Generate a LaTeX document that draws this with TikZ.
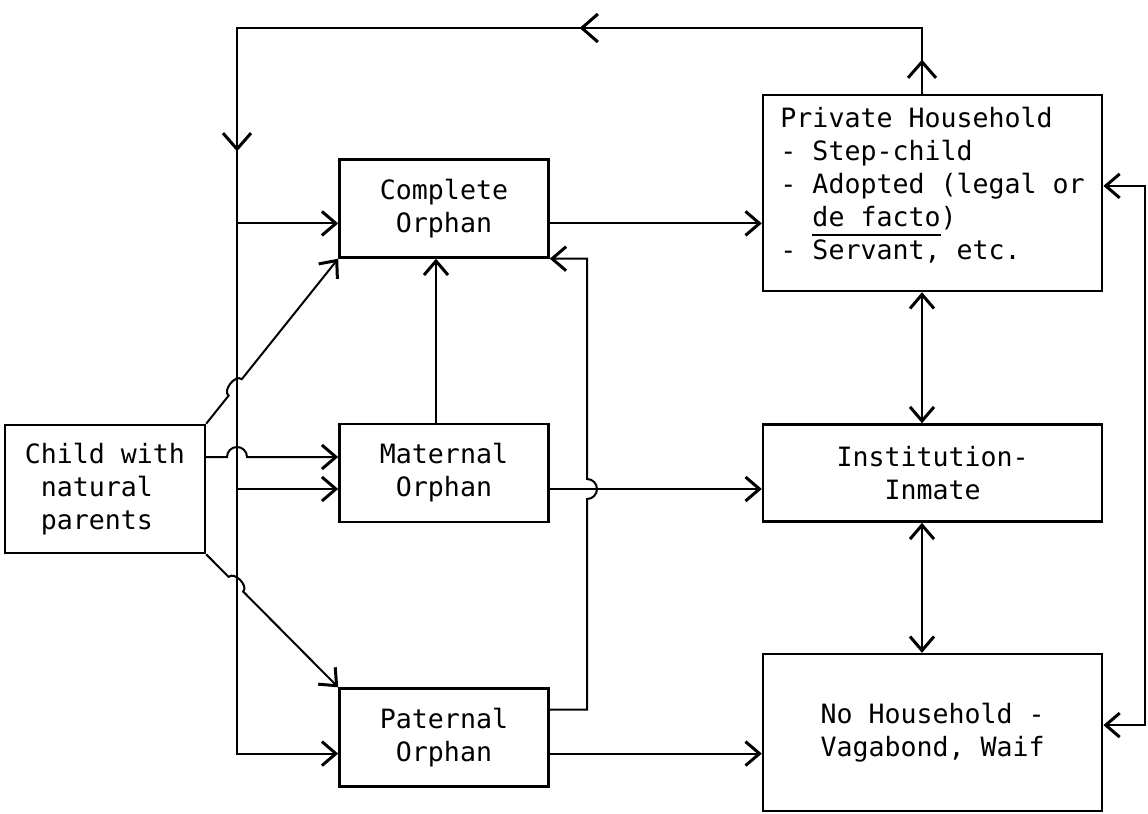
\documentclass[tikz,border=0pt]{standalone}
\usepackage{fontspec}
\setmonofont{DejaVu Sans Mono}
\usetikzlibrary{positioning, arrows.meta, calc, decorations.markings}

\newcommand{\lowline}[1]{\setbox0\hbox{#1}\rlap{\rule[-4.5pt]{\wd0}{0.8pt}}#1}

\tikzset{
  box/.style={draw, line width=1.3pt, inner sep=2pt, align=center,
              font=\ttfamily\fontsize{13.3pt}{16.5pt}\selectfont},
  orphan/.style={box, minimum width=104.5pt, minimum height=49pt},
  place/.style={box, minimum width=169.5pt},
  barb/.tip={Straight Barb[length=7pt,width=12pt,line width=1.5pt]},
  bigbarb/.tip={Straight Barb[length=8pt,width=14pt,line width=1.5pt]},
  link/.style={line width=1pt, -barb},
  both/.style={line width=1pt, barb-barb},
}

\begin{document}
\begin{tikzpicture}[x=0.5pt, y=-0.5pt]
  \useasboundingbox (0,0) rectangle (1148,814);

  % orphan column
  \node[orphan] (maternal) at (444,473) {Maternal\\Orphan};
  \node[orphan, above=82pt of maternal] (complete) {Complete\\Orphan};
  \node[orphan, below=82pt of maternal] (paternal) {Paternal\\Orphan};
  \node[box, minimum width=100pt, minimum height=64pt, align=left,
        left=66pt of maternal, yshift=-8pt] (child) {Child with\\~natural\\~parents};

  % where the child ends up
  \node[place, minimum height=48.5pt, right=106pt of maternal] (institution) {Institution-\\Inmate};
  \node[place, minimum height=98pt, align=left, above=65.5pt of institution] (private)
       {Private Household\\- Step-child\\- Adopted (legal or\\~~\lowline{de facto})\\- Servant, etc.\\[-7pt]};
  \node[place, minimum height=78.5pt, below=65pt of institution] (nohouse) {No Household -\\Vagabond, Waif};

  \coordinate (bus) at (237,28);
  \coordinate (spine) at (922,0);
  \coordinate (riser) at (587,0);
  \coordinate (rim) at (1145,0);
  \coordinate (comp1) at ([yshift=-7.5pt]complete.west);
  \coordinate (comp2) at ([yshift=-7.5pt]complete.east);
  \coordinate (mat1) at ([yshift=8pt]maternal.west);
  \coordinate (mat2) at ([yshift=-8pt]maternal.west);
  \coordinate (mat3) at ([yshift=-8pt]maternal.east);
  \coordinate (pat1) at ([yshift=-8pt]paternal.west);
  \coordinate (pat2) at ([yshift=14pt]paternal.east);
  \coordinate (pat3) at ([yshift=-8pt]paternal.east);
  \coordinate (nh) at ([yshift=3.75pt]nohouse.east);
  \coordinate (ph) at ([yshift=3.5pt]private.east);

  % back round to the left
  \draw[link, postaction={decorate}, decoration={markings,
        mark=at position 17pt with {\arrow{bigbarb}},
        mark=at position 204pt with {\arrow{bigbarb}},
        mark=at position 437pt with {\arrow{bigbarb}}}]
    (spine |- private.north) -- (spine |- bus) -- (bus) -- (bus |- pat1) -- (pat1);
  \draw[link] (bus |- comp1) -- (comp1);
  \draw[link] (bus |- mat2) -- (mat2);

  % from the child
  \draw[link] (child.north east) -- ($(child.north east)!0.17!(complete.south west)$)
    to[bend left=90] ($(child.north east)!0.27!(complete.south west)$) -- (complete.south west);
  \draw[link] (child.east |- mat1) -- ($(bus |- mat1)+(-5pt,0)$)
    arc[start angle=180, end angle=0, radius=5pt] -- (mat1);
  \draw[link] (child.south east) -- ($(child.south east)!0.17!(paternal.north west)$)
    to[bend left=90] ($(child.south east)!0.28!(paternal.north west)$) -- (paternal.north west);

  % between orphans
  \draw[link] ([xshift=-4pt]maternal.north) -- ([xshift=-4pt]complete.south);
  \draw[link] (pat2) -- (riser |- pat2) -- ($(riser |- mat2)+(0,-5pt)$)
    arc[start angle=-90, end angle=90, radius=5pt] -- (riser |- complete.south) -- (complete.south east);

  % to the right column
  \draw[link] (comp2) -- (comp2 -| private.west);
  \draw[link] (mat3) -- (mat3 -| institution.west);
  \draw[link] (pat3) -- (pat3 -| nohouse.west);
  \draw[both] (spine |- private.south) -- (spine |- institution.north);
  \draw[both] (spine |- institution.south) -- (spine |- nohouse.north);
  \draw[both] (nh) -- (rim |- nh) -- (rim |- ph) -- (ph);
\end{tikzpicture}
\end{document}
